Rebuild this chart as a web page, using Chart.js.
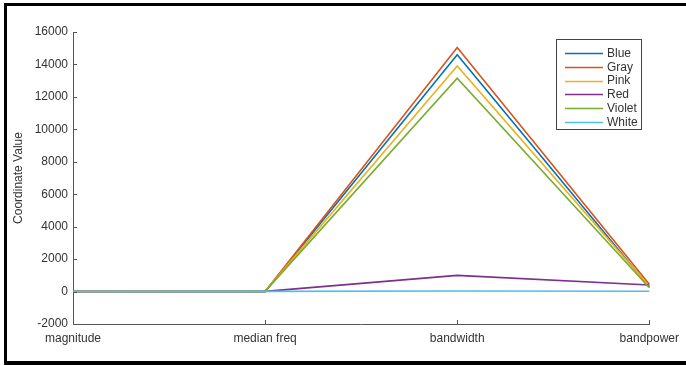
<!DOCTYPE html>
<html><head><meta charset="utf-8">
<script src="https://cdn.jsdelivr.net/npm/chart.js@4/dist/chart.umd.min.js"></script>
<style>html,body{margin:0;padding:0;background:#fff}#wrap{position:relative;width:686px;height:365px}</style>
</head><body><div id="wrap"><canvas id="c" width="686" height="365"></canvas></div>
<script>
const categories = ['magnitude', 'median freq', 'bandwidth', 'bandpower'];
const seriesNames = ['Blue', 'Gray', 'Pink', 'Red', 'Violet', 'White'];
const blueValues   = [0, 10, 14600, 280];
const grayValues   = [0, 10, 15050, 450];
const pinkValues   = [0, 10, 13900, 320];
const redValues    = [0, 10, 1000, 400];
const violetValues = [0, 10, 13150, 230];
const whiteValues  = [0, 10, 30, 20];
const yTickValues  = [-2000, 0, 2000, 4000, 6000, 8000, 10000, 12000, 14000, 16000];
const seriesColors = ['#0072BD', '#D95319', '#EDB120', '#7E2F8E', '#77AC30', '#4DBEEE'];
const allValues = [blueValues, grayValues, pinkValues, redValues, violetValues, whiteValues];

const FONT = '"Liberation Sans", Arial, Helvetica, sans-serif';
const TXT = '#333333';
const AX = '#555555';

const datasets = seriesNames.map((n, i) => ({
  label: n,
  data: allValues[i],
  borderColor: seriesColors[i],
  backgroundColor: seriesColors[i],
  borderWidth: 1.6,
  pointRadius: 0,
  tension: 0,
  fill: false,
  order: seriesNames.length - i
}));

const decor = {
  id: 'decor',
  afterDraw(chart) {
    const ctx = chart.ctx;
    const xs = chart.scales.x, ys = chart.scales.y;
    const ca = chart.chartArea;
    ctx.save();
    ctx.strokeStyle = AX;
    ctx.lineWidth = 1;
    ctx.beginPath();
    yTickValues.forEach(v => {
      const y = Math.round(ys.getPixelForValue(v)) + 0.5;
      ctx.moveTo(ca.left, y); ctx.lineTo(ca.left + 4, y);
    });
    categories.forEach((c, i) => {
      const x = Math.round(xs.getPixelForValue(i)) + 0.5;
      ctx.moveTo(x, ca.bottom); ctx.lineTo(x, ca.bottom - 4);
    });
    ctx.stroke();

    // legend
    const lx = 556, ly = 39, lw = 85, lh = 90;
    ctx.fillStyle = '#fff';
    ctx.fillRect(lx, ly, lw, lh);
    ctx.strokeStyle = '#444';
    ctx.lineWidth = 1;
    ctx.strokeRect(lx + 0.5, ly + 0.5, lw, lh);
    ctx.font = '12px ' + FONT;
    ctx.textBaseline = 'middle';
    ctx.textAlign = 'left';
    chart.data.datasets.forEach((ds, i) => {
      const y = ly + 14 + i * 13.8;
      ctx.strokeStyle = ds.borderColor;
      ctx.lineWidth = 1.3;
      ctx.beginPath();
      ctx.moveTo(lx + 9, Math.round(y) + 0.5); ctx.lineTo(lx + 47, Math.round(y) + 0.5);
      ctx.stroke();
      ctx.fillStyle = TXT;
      ctx.fillText(ds.label, lx + 51, y + 0.5);
    });

    // frame
    ctx.fillStyle = '#000';
    ctx.fillRect(4, 3, 682, 3);
    ctx.fillRect(4, 3, 3, 362);
    ctx.fillRect(4, 361, 682, 4);
    ctx.restore();
  }
};

new Chart(document.getElementById('c'), {
  type: 'line',
  data: { labels: categories, datasets },
  options: {
    responsive: false,
    animation: false,
    events: [],
    layout: { padding: { left: 0, right: 30, top: 32, bottom: 0 } },
    plugins: { legend: { display: false }, tooltip: { enabled: false } },
    scales: {
      x: {
        type: 'category',
        offset: false,
        grid: { display: false, drawTicks: false },
        border: { display: true, color: AX, width: 1 },
        ticks: { color: TXT, font: { family: FONT, size: 12 }, padding: 7, maxRotation: 0, autoSkip: false },
        afterFit(s) { s.height = 41; }
      },
      y: {
        min: -2000, max: 16000,
        grid: { display: false, drawTicks: false },
        border: { display: true, color: AX, width: 1 },
        ticks: {
          stepSize: 2000, color: TXT, font: { family: FONT, size: 12 }, padding: 5,
          callback: v => String(v)
        },
        title: { display: true, text: 'Coordinate Value', color: TXT, font: { family: FONT, size: 12 }, padding: { top: 11, bottom: 0 } },
        afterFit(s) { s.width = 73; }
      }
    }
  },
  plugins: [decor]
});
</script>
</body></html>
